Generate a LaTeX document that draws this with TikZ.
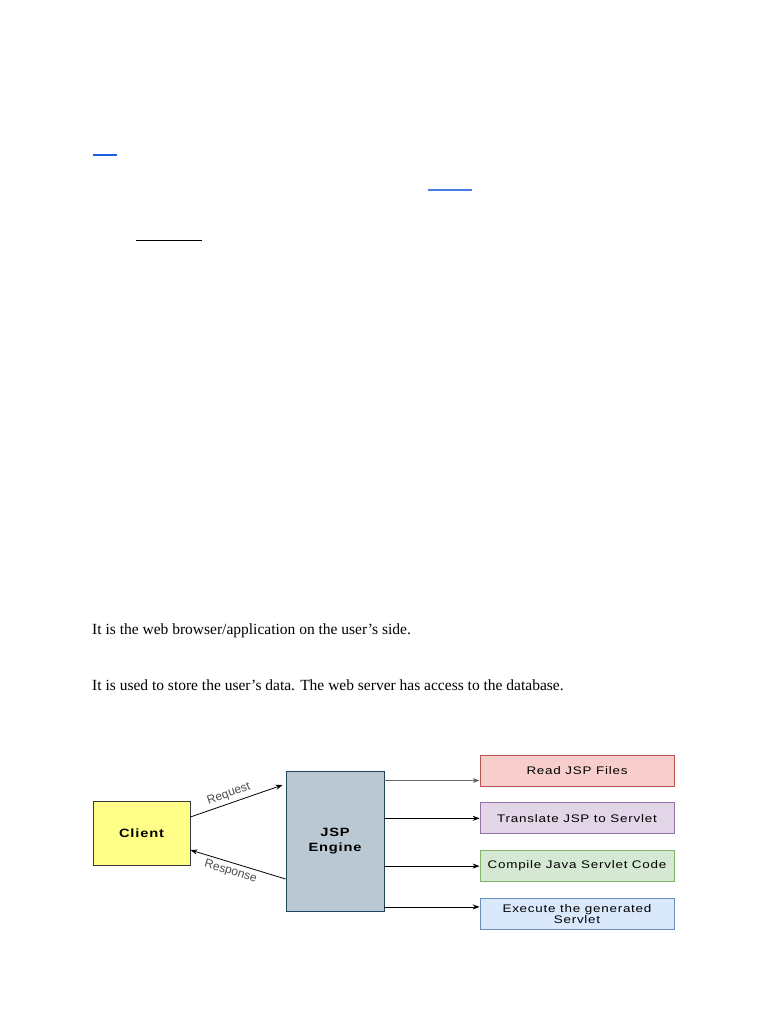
\documentclass[tikz,border=0pt]{standalone}
\usepackage{fontspec}
\setmainfont{Liberation Serif}
\setsansfont{Liberation Sans}
\newfontfamily\diagfont{Liberation Sans}[FakeStretch=1.22, LetterSpace=7]
\usepackage{xcolor}
\usetikzlibrary{positioning,arrows.meta}

\definecolor{clientfill}{HTML}{FFFF88}
\definecolor{clientline}{HTML}{36393D}
\definecolor{enginefill}{HTML}{BAC8D3}
\definecolor{engineline}{HTML}{23445D}
\definecolor{redfill}{HTML}{F8CECC}
\definecolor{redline}{HTML}{B85450}
\definecolor{purplefill}{HTML}{E1D5E7}
\definecolor{purpleline}{HTML}{9673A6}
\definecolor{greenfill}{HTML}{D5E8D4}
\definecolor{greenline}{HTML}{82B366}
\definecolor{bluefill}{HTML}{DAE8FC}
\definecolor{blueline}{HTML}{6C8EBF}
\definecolor{linkblue}{HTML}{1A5FE0}

\begin{document}
\begin{tikzpicture}[
  x=1pt, y=-1pt,
  para/.style={anchor=base west, inner sep=0pt, font=\fontsize{15.5}{18}\selectfont},
  box/.style={rectangle, draw, thick, align=center, inner sep=1pt, font=\diagfont\fontsize{11}{11.5}\selectfont},
  stepbox/.style={box, minimum width=194pt, minimum height=31pt},
  lbl/.style={font=\sffamily\fontsize{12}{12}\selectfont, text=black!70},
  arr/.style={-{Stealth[length=7pt, width=5pt]}, thick}
]
\useasboundingbox (0,0) rectangle (768,1024);

% leftover link underlines
\draw[linkblue, line width=1.2pt] (93,155) -- (117,155);
\draw[linkblue!80, line width=1.2pt] (428,190) -- (472,190);
\draw[line width=1pt] (136,240) -- (202,240);

% text
\node[para] (t1) at (92,634) {It is the web browser/application on the user’s side.};
\node[para] (t2) at (92,690) {It is used to store the user’s data. The web server has access to the database.};

% diagram
\node[box, fill=clientfill, draw=clientline, minimum width=97pt, minimum height=64pt,
  font=\diagfont\bfseries\fontsize{12}{12}\selectfont] (client) at (141.5,833) {Client};
\node[box, fill=enginefill, draw=engineline, minimum width=98pt, minimum height=140pt,
  font=\diagfont\bfseries\fontsize{12}{15}\selectfont] (engine) at (335,841) {JSP\\Engine};

\node[stepbox, fill=redfill, draw=redline] (read) at (577,770.5) {Read JSP Files};
\node[stepbox, fill=purplefill, draw=purpleline, below=16pt of read] (translate) {Translate JSP to Servlet};
\node[stepbox, fill=greenfill, draw=greenline, below=16pt of translate] (compile) {Compile Java Servlet Code};
\node[stepbox, fill=bluefill, draw=blueline, below=16pt of compile] (execute) {Execute the generated\\Servlet};

\draw[arr] ([yshift=16pt]client.east) -- node[sloped, above, pos=0.45, lbl] {Request} ([yshift=56pt, xshift=-3pt]engine.west);
\draw[arr] ([yshift=-38pt]engine.west) -- node[sloped, below, pos=0.55, lbl] {Response} ([yshift=-17pt]client.east);

\draw[arr, black!60] ([yshift=-10pt]engine.east |- read.west) -- ([yshift=-10pt]read.west);
\draw[arr] (engine.east |- translate.west) -- (translate.west);
\draw[arr] (engine.east |- compile.west) -- (compile.west);
\draw[arr] ([yshift=7pt]engine.east |- execute.west) -- ([yshift=7pt]execute.west);
\end{tikzpicture}
\end{document}
